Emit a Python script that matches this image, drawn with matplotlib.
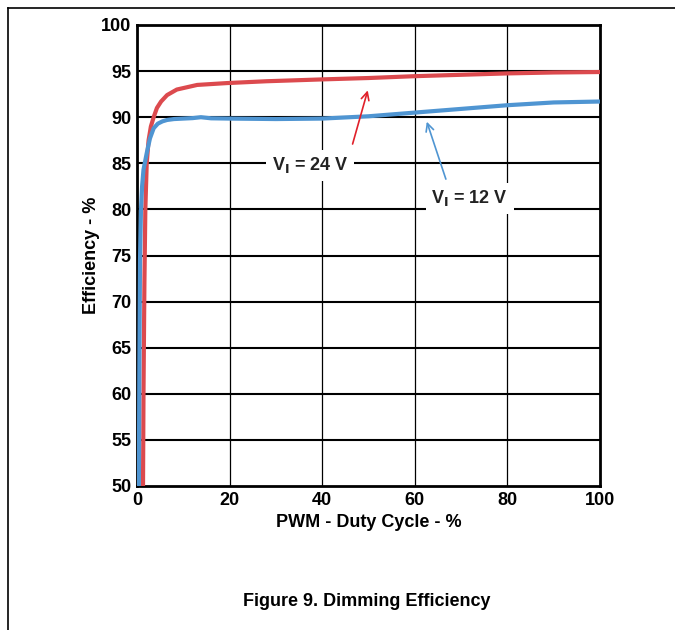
import matplotlib.pyplot as plt
from matplotlib.lines import Line2D

# efficiency vs PWM duty cycle
duty_12 = [0.4, 0.5, 0.65, 0.86, 1.1, 1.4, 2.1, 2.8, 3.6, 4.5, 5.5, 6.5, 8, 10, 12, 13.8, 16, 20, 30, 40, 50, 60, 70, 80, 90, 100]
eff_12 = [50, 62, 74.5, 80, 82.5, 84.3, 86.1, 87.7, 88.8, 89.3, 89.55, 89.7, 89.8, 89.85, 89.9, 90.0, 89.88, 89.85, 89.8, 89.85, 90.1, 90.5, 90.9, 91.3, 91.6, 91.7]

duty_24 = [1.3, 1.4, 1.6, 1.8, 2.1, 2.5, 3.0, 3.6, 4.3, 5.2, 6.5, 8.6, 13, 19.4, 28, 40, 50, 60, 70, 80, 90, 100]
eff_24 = [50, 60, 72, 80, 85, 87.5, 89.0, 90.0, 91.0, 91.7, 92.4, 93.0, 93.5, 93.7, 93.9, 94.1, 94.25, 94.45, 94.6, 94.75, 94.85, 94.9]

xticks = [0, 20, 40, 60, 80, 100]
yticks = [50, 55, 60, 65, 70, 75, 80, 85, 90, 95, 100]

plt.rcParams['font.family'] = ['Liberation Sans', 'DejaVu Sans']
plt.rcParams['font.weight'] = 'bold'

red = '#dc4a4e'
blue = '#4f95d2'

fig = plt.figure(figsize=(6.75, 6.3), dpi=100)
ax = fig.add_axes([137/675, 1 - 486/630, 463/675, 461/630])

ax.plot(duty_24, eff_24, color=red, linewidth=3, solid_capstyle='butt', zorder=3)
ax.plot(duty_12, eff_12, color=blue, linewidth=3, solid_capstyle='butt', zorder=3)

ax.set_xlim(0, 100)
ax.set_ylim(50, 100)
ax.set_xticks(xticks)
ax.set_yticks(yticks)
for y in yticks[1:-1]:
    ax.axhline(y, color='black', linewidth=1.5, zorder=1)
for x in xticks[1:-1]:
    ax.axvline(x, color='black', linewidth=0.9, zorder=1)
for s in ax.spines.values():
    s.set_linewidth(2)
ax.tick_params(length=0, labelsize=13, pad=4)
for lab in ax.get_xticklabels() + ax.get_yticklabels():
    lab.set_fontweight('bold')

ax.set_xlabel('PWM - Duty Cycle - %', fontsize=13, fontweight='bold', labelpad=4)
ax.set_ylabel('Efficiency - %', fontsize=13, fontweight='bold', labelpad=1)

box = dict(facecolor='white', edgecolor='none', pad=4)
ax.annotate('', xy=(50, 93.2), xytext=(46.4, 86.8),
            arrowprops=dict(arrowstyle='->', color='#e0202a', lw=1.2, mutation_scale=14), zorder=4)
ax.text(37.4, 84.8, r'V$_\mathbf{I}$ = 24 V', ha='center', va='center', fontsize=13,
        fontweight='bold', color='#222222', bbox=box, zorder=5)
ax.annotate('', xy=(62.4, 89.8), xytext=(66.9, 83.0),
            arrowprops=dict(arrowstyle='->', color=blue, lw=1.2, mutation_scale=14), zorder=4)
ax.text(71.9, 81.2, r'V$_\mathbf{I}$ = 12 V', ha='center', va='center', fontsize=13,
        fontweight='bold', color='#222222', bbox=box, zorder=5)

fig.text(367/675, 1 - 601/630, 'Figure 9. Dimming Efficiency', ha='center', va='center',
         fontsize=13, fontweight='bold')

# page frame
fig.add_artist(Line2D([8/675, 1], [1 - 8/630, 1 - 8/630], color='black', linewidth=1.2))
fig.add_artist(Line2D([8/675, 8/675], [0, 1 - 8/630], color='black', linewidth=1.2))

fig.savefig('out.png', dpi=100)
